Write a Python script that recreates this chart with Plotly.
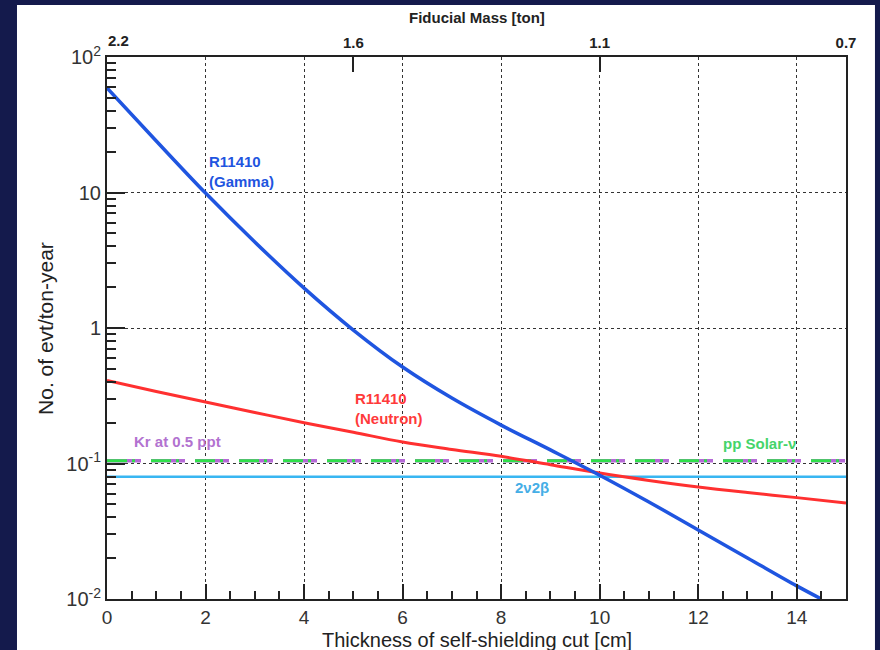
import plotly.graph_objects as go

# Self-shielding cut thickness [cm]
thickness = [0, 1, 2, 3, 4, 5, 6, 7, 8, 9, 10, 11, 12, 13, 14, 14.5]
# R11410 PMT gamma background [evt/ton-year]
gamma_rate = [59, 24.0, 9.9, 4.31, 1.97, 0.966, 0.515, 0.304, 0.192, 0.126, 0.082, 0.052, 0.0323, 0.0201, 0.0125, 0.0100]

thickness_n = [0, 1, 2, 3, 4, 5, 6, 7, 8, 9, 10, 11, 12, 13, 14, 15]
# R11410 PMT neutron background [evt/ton-year]
neutron_rate = [0.41, 0.34, 0.284, 0.238, 0.20, 0.17, 0.144, 0.127, 0.113, 0.098, 0.085, 0.075, 0.067, 0.061, 0.056, 0.051]

# Flat backgrounds [evt/ton-year]
kr_rate = 0.105
pp_solar_rate = 0.105
two_nu_bb_rate = 0.08

x_span = [0, 15]

# Top axis: fiducial mass for a given cut
mass_pos = [0, 5, 10, 15]
mass_labels = ["", "1.6", "1.1", "0.7"]
first_mass_label = "2.2"

x_ticks = [0, 2, 4, 6, 8, 10, 12, 14]
y_ticks = [0.01, 0.1, 1, 10, 100]
y_tick_labels = ["10<sup>-2</sup>", "10<sup>-1</sup>", "1", "10", "10<sup>2</sup>"]
y_minor = [m * 10 ** e for e in (-2, -1, 0, 1) for m in range(2, 10)]

FONT = "Liberation Sans, Arial, sans-serif"
NAVY = "#141a4c"

fig = go.Figure()

fig.add_trace(go.Scatter(x=x_span, y=[two_nu_bb_rate] * 2, mode="lines",
                         line=dict(color="#38b6f2", width=2.5), hoverinfo="skip"))
fig.add_trace(go.Scatter(x=x_span, y=[kr_rate] * 2, mode="lines",
                         line=dict(color="#b569d6", width=3.5, dash="34px,10px"), hoverinfo="skip"))
fig.add_trace(go.Scatter(x=x_span, y=[pp_solar_rate] * 2, mode="lines",
                         line=dict(color="#2fe04a", width=3, dash="20px,5px,3px,16px"), hoverinfo="skip"))
fig.add_trace(go.Scatter(x=thickness_n, y=neutron_rate, mode="lines", line_shape="spline",
                         line=dict(color="#ff3030", width=3), hoverinfo="skip"))
fig.add_trace(go.Scatter(x=thickness, y=gamma_rate, mode="lines", line_shape="spline",
                         line=dict(color="#1f55e0", width=3.5), hoverinfo="skip"))
# carrier for the top (fiducial mass) axis
fig.add_trace(go.Scatter(x=x_span, y=[1, 1], xaxis="x2", mode="lines", opacity=0,
                         hoverinfo="skip"))

# white panel behind the figure
fig.add_shape(type="rect", xref="paper", yref="paper",
              x0=-0.1218, x1=1.0392, y0=-0.12, y1=1.096,
              fillcolor="white", line_width=0, layer="below")

# curve labels (y given as log10 on the log axis)
labels = [
    dict(x=2.03, y=1.31, text="<b>R11410<br>(Gamma)</b>", color="#1f55e0", anchor="top"),
    dict(x=5.0, y=-0.44, text="<b>R11410<br>(Neutron)</b>", color="#ff3a3a", anchor="top"),
    dict(x=0.5, y=-0.834, text="<b>Kr at 0.5 ppt</b>", color="#b272d0", anchor="middle"),
    dict(x=12.47, y=-0.849, text="<b>pp Solar-ν</b>", color="#45d46a", anchor="middle"),
    dict(x=8.24, y=-1.18, text="<b>2ν2β</b>", color="#45aee6", anchor="middle"),
]
for lb in labels:
    fig.add_annotation(x=lb["x"], y=lb["y"], yref="y", xref="x", text=lb["text"],
                       showarrow=False, xanchor="left", yanchor=lb["anchor"], align="left",
                       font=dict(family=FONT, size=15, color=lb["color"]))

fig.add_annotation(xref="paper", yref="paper", x=0.5, y=-0.0755, text="Thickness of self-shielding cut [cm]",
                   showarrow=False, xanchor="center", yanchor="middle",
                   font=dict(family=FONT, size=20, color="#222"))
fig.add_annotation(xref="paper", yref="paper", x=-0.084, y=0.5, text="No. of evt/ton-year",
                   showarrow=False, textangle=-90, xanchor="center", yanchor="middle",
                   font=dict(family=FONT, size=21, color="#222"))
fig.add_annotation(xref="paper", yref="paper", x=0.5, y=1.072, text="<b>Fiducial Mass [ton]</b>",
                   showarrow=False, xanchor="center", yanchor="middle",
                   font=dict(family=FONT, size=15, color="#222"))
fig.add_annotation(xref="paper", yref="paper", x=0.015, y=1.031, text="<b>" + first_mass_label + "</b>",
                   showarrow=False, xanchor="center", yanchor="middle",
                   font=dict(family=FONT, size=15, color="#222"))

fig.update_layout(
    width=880, height=650,
    margin=dict(l=107, r=34, t=57, b=51),
    paper_bgcolor=NAVY, plot_bgcolor="white",
    showlegend=False,
    xaxis=dict(range=x_span, tickvals=x_ticks, ticks="inside", ticklen=15, tickwidth=1.5,
               tickcolor="#222", showline=True, linecolor="#222", linewidth=2, mirror=True,
               showgrid=True, gridcolor="#333", griddash="dot", gridwidth=1.2, zeroline=False,
               tickfont=dict(family=FONT, size=19, color="#333"),
               minor=dict(dtick=0.5, ticks="inside", ticklen=8, tickcolor="#222", showgrid=False)),
    xaxis2=dict(range=x_span, overlaying="x", side="top", tickvals=mass_pos, ticktext=mass_labels,
                ticks="inside", ticklen=15, tickwidth=1.5, tickcolor="#222", showgrid=False,
                showline=False, zeroline=False, ticklabelstandoff=5,
                tickfont=dict(family=FONT, size=15, color="#222", weight="bold")),
    yaxis=dict(type="log", range=[-2, 2], tickvals=y_ticks, ticktext=y_tick_labels,
               ticks="inside", ticklen=18, tickwidth=1.5, tickcolor="#222",
               showline=True, linecolor="#222", linewidth=2, mirror=True,
               showgrid=True, gridcolor="#333", griddash="dot", gridwidth=1.2, zeroline=False,
               tickfont=dict(family=FONT, size=20, color="#333"),
               minor=dict(tickvals=y_minor, ticks="inside", ticklen=9, tickcolor="#222",
                          showgrid=False)),
)

fig.write_html("out.html")
